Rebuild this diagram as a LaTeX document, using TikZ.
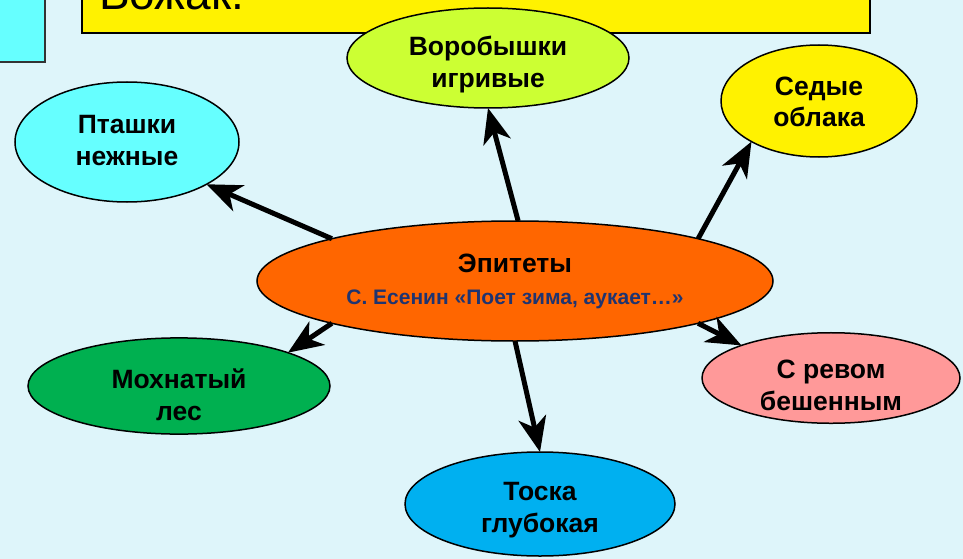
\documentclass[tikz,border=0pt]{standalone}
\usepackage{fontspec}
\setmainfont{Liberation Sans}
\usepackage{xcolor}
\usetikzlibrary{arrows.meta,shapes.geometric}

\definecolor{bgblue}{RGB}{222,245,250}
\definecolor{boxcyan}{RGB}{102,255,255}
\definecolor{limegreen}{RGB}{204,255,51}
\definecolor{epiorange}{RGB}{255,102,0}
\definecolor{revpink}{RGB}{255,153,153}
\definecolor{moxgreen}{RGB}{0,176,80}
\definecolor{tosblue}{RGB}{0,176,240}
\definecolor{subnavy}{RGB}{31,52,112}

\begin{document}
\begin{tikzpicture}[x=1pt,y=-1pt,
  bubble/.style={ellipse,draw=black,line width=1.5pt,inner sep=0pt,outer sep=0pt,
    align=center,font=\bfseries\fontsize{26.5}{32}\selectfont,text depth=0pt},
  arr/.style={line width=5pt,-{Stealth[length=35pt,width=28pt,inset=10pt]}}]
\clip (0,0) rectangle (963,559);
\fill[bgblue] (0,0) rectangle (963,559);

% boxes at the top
\draw[fill=boxcyan,draw=black!80,line width=1.5pt] (-5,-5) rectangle (45,62);
\draw[fill=yellow,line width=1.5pt] (82,-5) rectangle (870,33);
\node[anchor=base west,inner sep=0pt,font=\fontsize{46}{46}\selectfont] (title) at (99,10) {Вожак.};

% ellipses
\node[bubble,fill=epiorange,minimum width=516pt,minimum height=120pt,text height=46pt] (epi) at (515,281)
  {Эпитеты\\{\fontsize{21}{32}\selectfont\color{subnavy}С. Есенин «Поет зима, аукает…»}};
\node[bubble,fill=limegreen,minimum width=282pt,minimum height=100pt,text height=60pt] (vor) at (488,58) {Воробышки\\игривые};
\node[bubble,fill=boxcyan,minimum width=224pt,minimum height=120pt,text height=46pt] (pta) at (127,142) {Пташки\\нежные};
\node[bubble,fill=yellow,minimum width=196pt,minimum height=112pt,text height=52pt] (sed) at (819,101) {Седые\\облака};
\node[bubble,fill=revpink,minimum width=258pt,minimum height=90pt,text height=64pt] (rev) at (831,378) {С ревом\\бешенным};
\node[bubble,fill=moxgreen,minimum width=302pt,minimum height=88pt,text height=68pt] (mox) at (179,386) {Мохнатый\\лес};
\node[bubble,fill=tosblue,minimum width=270pt,minimum height=104pt,text height=56pt] (tos) at (540,504) {Тоска\\глубокая};

% arrows
\draw[arr] (epi.87) -- (vor.270);
\draw[arr] (epi.167) -- (pta.332);
\draw[arr] (epi.13) -- (sed.211);
\draw[arr] (epi.193) -- (mox.17);
\draw[arr] (epi.347) -- (rev.160);
\draw[arr] (epi.270) -- (tos.90);
\end{tikzpicture}
\end{document}
